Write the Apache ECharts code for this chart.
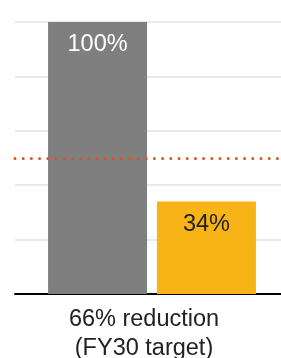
<!DOCTYPE html>
<html>
<head>
<meta charset="utf-8">
<script src="https://cdn.jsdelivr.net/npm/echarts@6/dist/echarts.min.js"></script>
<style>
  html, body { margin: 0; padding: 0; background: #fff; }
  #chart { width: 281px; height: 358px; }
</style>
</head>
<body>
<div id="chart"></div>
<script>
var categories = ['66% reduction\n(FY30 target)'];
var baseValues = [100];
var targetValues = [34];
var targetLine = 50;
var yTicks = [0, 20, 40, 60, 80, 100];

var myChart = echarts.init(document.getElementById('chart'));

var option = {
  animation: false,
  grid: {
    left: 15,
    right: -8,
    top: 22,
    bottom: 64,
    outerBoundsMode: 'none'
  },
  xAxis: {
    type: 'category',
    data: categories,
    axisTick: { show: false },
    axisLine: {
      lineStyle: { color: '#000', width: 2 }
    },
    axisLabel: {
      fontFamily: 'Liberation Sans',
      fontSize: 23.5,
      lineHeight: 29,
      color: '#222',
      margin: 11,
      padding: [0, 16, 0, 0]
    }
  },
  yAxis: {
    type: 'value',
    min: yTicks[0],
    max: yTicks[yTicks.length - 1],
    interval: 20,
    axisLabel: { show: false },
    axisLine: { show: false },
    axisTick: { show: false },
    splitLine: {
      lineStyle: { color: '#e2e2e2', width: 1.5 }
    }
  },
  series: [
    {
      name: 'Base',
      type: 'bar',
      barWidth: 99,
      barGap: '10%',
      itemStyle: { color: '#7f7f7f' },
      label: {
        show: true,
        position: 'insideTop',
        distance: 11,
        formatter: '{c}%',
        color: '#fff',
        fontFamily: 'Liberation Sans',
        fontSize: 23.5
      },
      data: baseValues
    },
    {
      name: 'Target',
      type: 'bar',
      barWidth: 99,
      itemStyle: { color: '#f8b316' },
      label: {
        show: true,
        position: 'insideTop',
        distance: 11,
        formatter: '{c}%',
        color: '#222',
        fontFamily: 'Liberation Sans',
        fontSize: 23.5
      },
      markLine: {
        silent: true,
        symbol: 'none',
        label: { show: false },
        lineStyle: {
          color: '#d9561f',
          width: 3,
          type: [0, 8.2],
          cap: 'round'
        },
        data: [{ yAxis: targetLine }]
      },
      data: targetValues
    }
  ]
};

myChart.setOption(option);
</script>
</body>
</html>
